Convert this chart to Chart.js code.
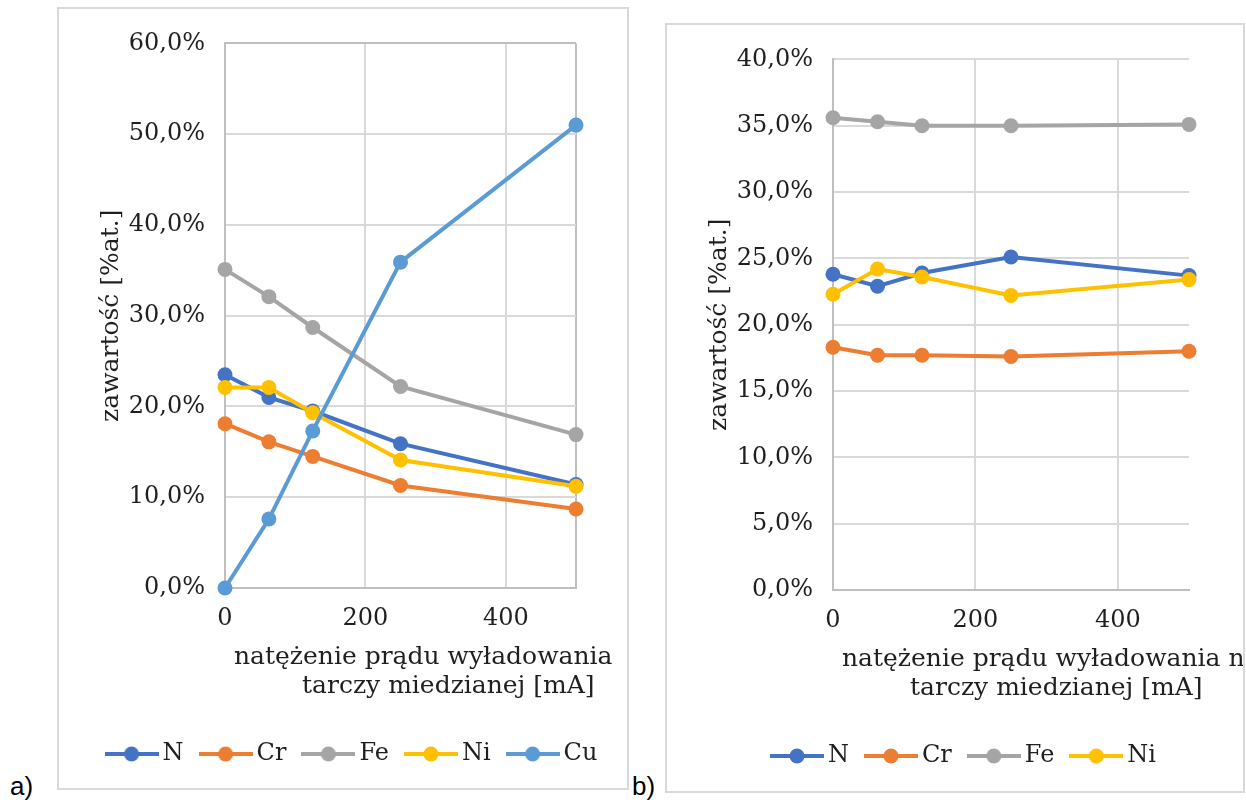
<!DOCTYPE html>
<html>
<head>
<meta charset="utf-8">
<script src="https://cdn.jsdelivr.net/npm/chart.js@4.4.1/dist/chart.umd.min.js"></script>
<style>
  body { margin: 0; background: #fff; width: 1246px; height: 800px; position: relative; overflow: hidden; }
  .panel { position: absolute; border: 2px solid #d9d9d9; background: #fff; }
  .panel canvas { display: block; }
  .tag { position: absolute; font: 26px "Liberation Sans"; line-height: 26px; color: #000; }
</style>
</head>
<body>
<div class="panel" style="left:57px;top:7px;width:568px;height:779px"><canvas id="chartA" width="568" height="779"></canvas></div>
<div class="panel" style="left:665px;top:23px;width:576px;height:766px"><canvas id="chartB" width="576" height="766"></canvas></div>
<div class="tag" style="left:10px;top:773px">a)</div>
<div class="tag" style="left:632px;top:773px">b)</div>
<script>
// natężenie prądu [mA]
const currentA = [0, 62.5, 125, 250, 500];
const currentB = [0, 62.5, 125, 250, 500];

// wykres a) zawartość [%at.]
const namesA = ['N', 'Cr', 'Fe', 'Ni', 'Cu'];
const nA  = [23.5, 21.0, 19.5, 15.9, 11.4];
const crA = [18.1, 16.1, 14.5, 11.3, 8.7];
const feA = [35.1, 32.1, 28.7, 22.2, 16.9];
const niA = [22.1, 22.1, 19.3, 14.1, 11.2];
const cuA = [0.0, 7.6, 17.3, 35.9, 51.0];

// wykres b)
const namesB = ['N', 'Cr', 'Fe', 'Ni'];
const nB  = [23.8, 22.9, 23.9, 25.1, 23.7];
const crB = [18.3, 17.7, 17.7, 17.6, 18.0];
const feB = [35.6, 35.3, 35.0, 35.0, 35.1];
const niB = [22.3, 24.2, 23.6, 22.2, 23.4];

const xTicks = [0, 200, 400];
const yTitle = 'zawartość [%at.]';
const xTitleA = ['natężenie prądu wyładowania', 'tarczy miedzianej [mA]'];
const xTitleB = ['natężenie prądu wyładowania na', 'tarczy miedzianej [mA]'];

const colors = { N: '#4472C4', Cr: '#ED7D31', Fe: '#A5A5A5', Ni: '#FFC000', Cu: '#5B9BD5' };
const TXT = '#1f1f1f';
const GRID = '#d9d9d9';
const AXIS = '#bfbfbf';

Chart.defaults.font.family = 'DejaVu Serif';
Chart.defaults.font.size = 24;
Chart.defaults.color = TXT;

// ikonka legendy: linia z kółkiem
function legendIcon(color) {
    const c = document.createElement('canvas');
    c.width = 54; c.height = 16;
    const g = c.getContext('2d');
    g.strokeStyle = color; g.lineWidth = 4;
    g.beginPath(); g.moveTo(0, 8); g.lineTo(54, 8); g.stroke();
    g.fillStyle = color;
    g.beginPath(); g.arc(27, 8, 7.5, 0, Math.PI * 2); g.fill();
    return c;
}

// tytuł osi X w dwóch liniach
const xTitlePlugin = {
    id: 'xTitle',
    afterDraw(chart, args, opts) {
        const { ctx, chartArea } = chart;
        ctx.save();
        ctx.font = '25px "DejaVu Serif"';
        ctx.fillStyle = TXT;
        ctx.textAlign = 'left';
        ctx.textBaseline = 'alphabetic';
        ctx.fillText(opts.lines[0], chartArea.left + 9, chartArea.bottom + 76);
        ctx.fillText(opts.lines[1], chartArea.left + 77, chartArea.bottom + 105);
        ctx.restore();
    }
};

function makeChart(id, current, names, series, yMax, yStep, frame, padRight, padBottom, xTitle) {
    const icons = names.map(n => legendIcon(colors[n]));
    const datasets = names.map((name, i) => ({
        label: name,
        data: series[i].map((v, k) => ({ x: current[k], y: v })),
        borderColor: colors[name],
        backgroundColor: colors[name],
        pointBackgroundColor: colors[name],
        borderWidth: 4,
        pointRadius: 7.5,
        pointHoverRadius: 7.5,
        pointBorderWidth: 0,
        tension: 0,
        clip: false,
        order: names.length - i
    }));

    return new Chart(document.getElementById(id), {
        type: 'line',
        data: { datasets: datasets },
        options: {
            responsive: false,
            animation: false,
            layout: { padding: { left: 24, right: 0, top: 29, bottom: padBottom } },
            scales: {
                x: {
                    type: 'linear',
                    min: 0,
                    max: 500,
                    afterBuildTicks: s => {
                        const t = xTicks.map(v => ({ value: v }));
                        if (frame) t.push({ value: 500 });
                        s.ticks = t;
                    },
                    ticks: {
                        padding: 16,
                        maxRotation: 0,
                        autoSkip: false,
                        callback: v => xTicks.includes(v) ? String(v) : ''
                    },
                    grid: {
                        drawTicks: false,
                        lineWidth: 2,
                        color: c => (frame && c.tick && c.tick.value === 500) ? AXIS : GRID
                    },
                    border: { color: AXIS, width: 2 },
                    afterFit: s => { s.height = 131; }
                },
                y: {
                    min: 0,
                    max: yMax,
                    ticks: {
                        stepSize: yStep,
                        padding: 20,
                        callback: v => v.toFixed(1).replace('.', ',') + '%'
                    },
                    grid: {
                        drawTicks: false,
                        lineWidth: 2,
                        color: c => (frame && c.tick && c.tick.value === yMax) ? AXIS : GRID
                    },
                    border: { color: AXIS, width: 2 },
                    title: { display: true, text: yTitle, padding: { top: 13, bottom: 0 }, font: { size: 25 } },
                    afterFit: s => { s.width = 142; }
                },
                // pusty margines po prawej
                yPad: {
                    position: 'right',
                    min: 0,
                    max: 1,
                    ticks: { display: false },
                    grid: { display: false },
                    border: { display: false },
                    afterFit: s => { s.width = padRight; }
                }
            },
            plugins: {
                tooltip: { enabled: false },
                xTitle: { lines: xTitle },
                legend: {
                    position: 'bottom',
                    labels: {
                        usePointStyle: true,
                        pointStyleWidth: 38,
                        padding: 23,
                        color: TXT,
                        sort: (a, b) => a.datasetIndex - b.datasetIndex,
                        generateLabels: chart => {
                            const items = Chart.defaults.plugins.legend.labels.generateLabels(chart);
                            items.forEach(it => { it.pointStyle = icons[it.datasetIndex]; });
                            return items;
                        }
                    }
                }
            }
        },
        plugins: [xTitlePlugin]
    });
}

makeChart('chartA', currentA, namesA, [nA, crA, feA, niA, cuA], 60, 10, true, 51, 12, xTitleA);
makeChart('chartB', currentB, namesB, [nB, crB, feB, niB], 40, 5, false, 54, 13, xTitleB);
</script>
</body>
</html>
